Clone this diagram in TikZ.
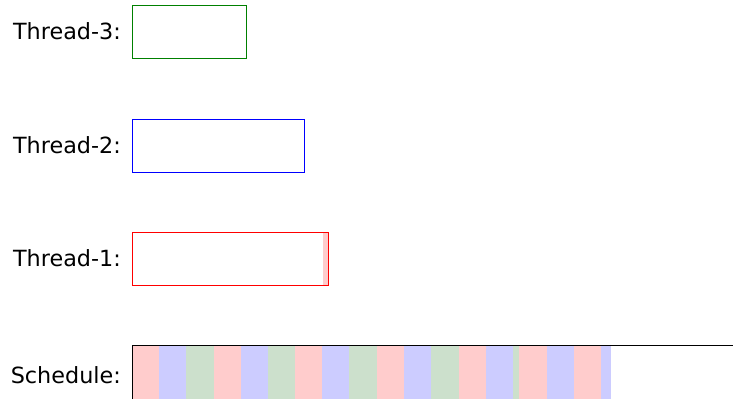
\documentclass[tikz,border=0pt]{standalone}
\usepackage{fontspec}
\setmainfont{DejaVu Sans}
\definecolor{tgreen}{RGB}{0,128,0}
\definecolor{fr}{RGB}{255,204,204}
\definecolor{fb}{RGB}{204,204,255}
\definecolor{fg}{RGB}{204,224,204}
\begin{document}
\begin{tikzpicture}[x=1pt,y=-1pt,
  lab/.style={anchor=east,inner sep=0pt,font=\fontsize{22.3}{25}\selectfont},
  tbox/.style={line width=1pt}]
\useasboundingbox (0,0) rectangle (733,399);
% thread boxes
\draw[tbox,tgreen] (132.5,5.5) rectangle (246.5,58.5);
\coordinate (b3) at (132,32);
\draw[tbox,blue] (132.5,119) rectangle (304.5,172);
\coordinate (b2) at (132,145.5);
\fill[fr] (323,232.5) rectangle (328,285.5);
\draw[tbox,red] (132.5,232.5) rectangle (328,285.5);
\coordinate (b1) at (132,259);
% schedule strips
\foreach \a/\b/\c in {132/159.3/fr,159.3/186/fb,186/214/fg,214/241.3/fr,241.3/268/fb,268/295.3/fg,295.3/322/fr,322/349.3/fb,349.3/377/fg,377/403.7/fr,403.7/431/fb,431/459/fg,459/485.7/fr,485.7/513/fb,513/519/fg,519/547/fr,547/573.7/fb,573.7/601/fr,601/611/fb}
  \fill[\c] (\a,345.5) rectangle (\b,399);
\draw[line width=1pt] (132.5,399) -- (132.5,345.5) -- (733,345.5);
\coordinate (bs) at (132,372);
% labels
\node[lab] (l3) at (121,31.5) {Thread-3:};
\node[lab] (l2) at (121,144.7) {Thread-2:};
\node[lab] (l1) at (121,258) {Thread-1:};
\node[lab] (ls) at (121,374.7) {Schedule:};
\end{tikzpicture}
\end{document}
